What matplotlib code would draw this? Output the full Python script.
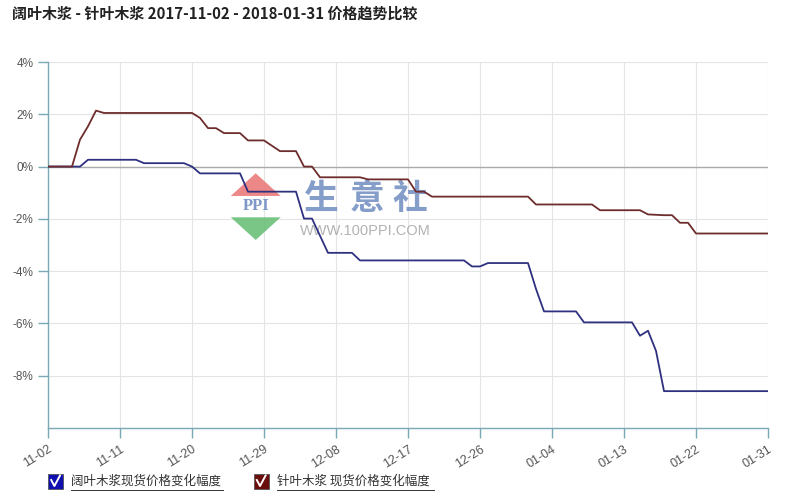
import numpy as np
import matplotlib
matplotlib.use("Agg")
import matplotlib.pyplot as plt
from matplotlib.patches import Rectangle, Polygon
from matplotlib.lines import Line2D

plt.rcParams['font.family'] = ['Liberation Sans', 'Noto Sans CJK SC', 'DejaVu Sans']

# ------------------------------------------------------------------
# day offsets from 2017-11-02, values in %
hardwood_days = [0, 4, 5, 11, 12, 17, 18, 19, 24, 25, 31, 32, 33, 35, 38, 39, 52, 53, 54, 55,
                 60, 61, 62, 66, 67, 73, 74, 75, 76, 77, 90]
hardwood_vals = [0, 0, 0.26, 0.26, 0.13, 0.13, 0.0, -0.26, -0.26, -0.96, -0.96, -1.99, -1.99,
                 -3.30, -3.30, -3.59, -3.59, -3.82, -3.82, -3.69, -3.69, -4.68, -5.54, -5.54,
                 -5.96, -5.96, -6.47, -6.28, -7.05, -8.59, -8.59]
softwood_days = [0, 3, 4, 5, 6, 7, 18, 19, 20, 21, 22, 24, 25, 27, 29, 31, 32, 33, 34, 39, 40,
                 45, 46, 47, 48, 60, 61, 68, 69, 74, 75, 77, 78, 79, 80, 81, 90]
softwood_vals = [0, 0, 1.03, 1.54, 2.14, 2.05, 2.05, 1.86, 1.47, 1.47, 1.28, 1.28, 1.0, 1.0,
                 0.59, 0.59, 0.0, 0.0, -0.41, -0.41, -0.49, -0.49, -0.96, -0.96, -1.15, -1.15,
                 -1.45, -1.45, -1.67, -1.67, -1.83, -1.86, -1.86, -2.15, -2.15, -2.56, -2.56]

tick_days = [0, 9, 18, 27, 36, 45, 54, 63, 72, 81, 90]
tick_labels = ["11-02", "11-11", "11-20", "11-29", "12-08", "12-17", "12-26",
               "01-04", "01-13", "01-22", "01-31"]
y_ticks = [4, 2, 0, -2, -4, -6, -8]

title = "阔叶木浆 - 针叶木浆 2017-11-02 - 2018-01-31 价格趋势比较"
legend_labels = ["阔叶木浆现货价格变化幅度", "针叶木浆 现货价格变化幅度"]
# ------------------------------------------------------------------

blue = "#2f3180"
red = "#6e2c2c"
axis_col = "#7aa9b3"

fig = plt.figure(figsize=(8, 5), dpi=100)
ax = fig.add_axes([0.06, 0.144, 0.90, 0.732])

# watermark (100ppi)
wm_blue = "#6f8cc0"
for cx, ch in [(0.380, "生"), (0.4426, "意"), (0.5028, "社")]:
    ax.text(cx, 0.627, ch, transform=ax.transAxes, fontsize=25, weight='bold',
            color=wm_blue, alpha=0.85, family=['Noto Sans CJK SC'], ha='center', va='center')
ax.text(0.35, 0.537, "WWW.100PPI.COM", transform=ax.transAxes, fontsize=10.5,
        color="#aaaaaa", alpha=0.9, va='center')
ax.add_patch(Polygon([[0.2538, 0.634], [0.3232, 0.634], [0.2885, 0.696]], closed=True,
                     transform=ax.transAxes, color="#ec7b7b", alpha=0.9, lw=0))
ax.add_patch(Polygon([[0.2538, 0.5757], [0.3232, 0.5757], [0.2885, 0.5137]], closed=True,
                     transform=ax.transAxes, color="#6cc07a", alpha=0.9, lw=0))
ax.text(0.2885, 0.6066, "PPI", transform=ax.transAxes, fontsize=12, weight='bold',
        family=['Liberation Serif'], color=wm_blue, alpha=0.9, ha='center', va='center')

ax.plot(hardwood_days, hardwood_vals, color=blue, lw=1.3, zorder=3)
ax.plot(softwood_days, softwood_vals, color=red, lw=1.3, zorder=3)
ax.axhline(0, color="#aaaaaa", lw=1.0, zorder=2)

ax.set_xlim(0, 90)
ax.set_ylim(-10, 4)
ax.set_yticks(y_ticks)
ax.set_yticklabels([f"{v}%" for v in y_ticks])
ax.set_xticks(tick_days)
ax.set_xticklabels(tick_labels, rotation=32, ha='right', va='top', rotation_mode='anchor')
ax.grid(True, color="#e4e4e4", lw=0.8, zorder=0)
ax.set_axisbelow(True)

for side in ['top', 'right']:
    ax.spines[side].set_visible(False)
for side in ['left', 'bottom']:
    ax.spines[side].set_color(axis_col)
    ax.spines[side].set_linewidth(1.0)
ax.tick_params(axis='both', colors=axis_col, length=7, width=1.0, labelsize=8.5,
               labelcolor="#555555")
ax.tick_params(axis='x', pad=4, labelsize=9)

fig.text(0.015, 0.972, title, fontsize=10.8, weight='bold', color="#222222",
         family=['Noto Sans CJK SC', 'DejaVu Sans'], va='center')

# legend with checkboxes
for x0, col, lab in [(0.06, "#1010b0", legend_labels[0]), (0.317, "#6a0e0e", legend_labels[1])]:
    fig.patches.append(Rectangle((x0, 0.022), 0.019, 0.031, transform=fig.transFigure,
                                 facecolor=col, edgecolor="#555555", lw=0.6))
    fig.lines.append(Line2D([x0 + 0.004, x0 + 0.008, x0 + 0.015],
                            [0.040, 0.028, 0.049], transform=fig.transFigure,
                            color="white", lw=1.4))
    fig.text(x0 + 0.029, 0.037, lab, fontsize=9, color="#333333",
             family=['Noto Sans CJK SC', 'DejaVu Sans'], va='center')
    w = 0.19 if lab == legend_labels[0] else 0.196
    fig.lines.append(Line2D([x0 + 0.029, x0 + 0.029 + w], [0.021, 0.021],
                            transform=fig.transFigure, color="#333333", lw=0.7))

fig.savefig("out.png", dpi=100)
